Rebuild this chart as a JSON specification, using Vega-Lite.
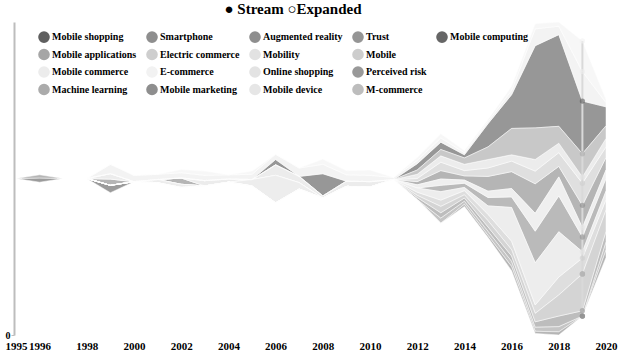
{
  "$schema": "https://vega.github.io/schema/vega-lite/v6.json",
  "width": 590,
  "height": 313,
  "autosize": {"type": "none"},
  "padding": {"left": 16, "top": 22, "right": 16, "bottom": 21},
  "title": {"text": "● Stream ○Expanded", "anchor": "middle", "fontSize": 15, "font": "Liberation Serif", "fontWeight": "bold", "color": "#000000", "offset": 4, "dx": -18},
  "config": {"view": {"stroke": null}, "font": "Liberation Serif"},
  "data": {"values": [
    {"year":1995,"Mobile shopping":0,"Smartphone":0,"Augmented reality":0,"Trust":0,"Mobile computing":0,"Mobile applications":0,"Electric commerce":0,"Mobility":0,"Mobile":0,"Mobile device":0,"Mobile commerce":0,"E-commerce":0,"Online shopping":0,"Perceived risk":0,"M-commerce":0,"Machine learning":0,"Mobile marketing":0},
    {"year":1996,"Mobile shopping":0,"Smartphone":0,"Augmented reality":0,"Trust":0,"Mobile computing":4,"Mobile applications":0,"Electric commerce":0,"Mobility":0,"Mobile":0,"Mobile device":0,"Mobile commerce":0,"E-commerce":0,"Online shopping":0,"Perceived risk":0,"M-commerce":0,"Machine learning":0,"Mobile marketing":3},
    {"year":1997,"Mobile shopping":0,"Smartphone":0,"Augmented reality":0,"Trust":0,"Mobile computing":0,"Mobile applications":0,"Electric commerce":0,"Mobility":0,"Mobile":0,"Mobile device":0,"Mobile commerce":0,"E-commerce":0,"Online shopping":0,"Perceived risk":0,"M-commerce":0,"Machine learning":0,"Mobile marketing":0},
    {"year":1998,"Mobile shopping":0,"Smartphone":0,"Augmented reality":0,"Trust":0,"Mobile computing":0,"Mobile applications":0,"Electric commerce":0,"Mobility":0,"Mobile":0,"Mobile device":0,"Mobile commerce":0,"E-commerce":0,"Online shopping":0,"Perceived risk":0,"M-commerce":0,"Machine learning":0,"Mobile marketing":0},
    {"year":1999,"Mobile shopping":0,"Smartphone":6,"Augmented reality":0,"Trust":0,"Mobile computing":7,"Mobile applications":0,"Electric commerce":0,"Mobility":5,"Mobile":0,"Mobile device":0,"Mobile commerce":9,"E-commerce":0,"Online shopping":0,"Perceived risk":0,"M-commerce":0,"Machine learning":0,"Mobile marketing":0},
    {"year":2000,"Mobile shopping":0,"Smartphone":0,"Augmented reality":0,"Trust":0,"Mobile computing":0,"Mobile applications":0,"Electric commerce":0,"Mobility":0,"Mobile":0,"Mobile device":0,"Mobile commerce":6,"E-commerce":0,"Online shopping":0,"Perceived risk":0,"M-commerce":0,"Machine learning":0,"Mobile marketing":0},
    {"year":2001,"Mobile shopping":0,"Smartphone":0,"Augmented reality":0,"Trust":0,"Mobile computing":0,"Mobile applications":0,"Electric commerce":0,"Mobility":0,"Mobile":0,"Mobile device":0,"Mobile commerce":5,"E-commerce":0,"Online shopping":3,"Perceived risk":0,"M-commerce":0,"Machine learning":0,"Mobile marketing":0},
    {"year":2002,"Mobile shopping":0,"Smartphone":6,"Augmented reality":0,"Trust":0,"Mobile computing":0,"Mobile applications":0,"Electric commerce":0,"Mobility":0,"Mobile":0,"Mobile device":0,"Mobile commerce":5,"E-commerce":3,"Online shopping":3,"Perceived risk":0,"M-commerce":0,"Machine learning":0,"Mobile marketing":0},
    {"year":2003,"Mobile shopping":0,"Smartphone":0,"Augmented reality":0,"Trust":0,"Mobile computing":0,"Mobile applications":0,"Electric commerce":0,"Mobility":5,"Mobile":0,"Mobile device":0,"Mobile commerce":5,"E-commerce":4,"Online shopping":0,"Perceived risk":0,"M-commerce":0,"Machine learning":0,"Mobile marketing":0},
    {"year":2004,"Mobile shopping":0,"Smartphone":0,"Augmented reality":0,"Trust":0,"Mobile computing":0,"Mobile applications":0,"Electric commerce":0,"Mobility":3,"Mobile":0,"Mobile device":0,"Mobile commerce":4,"E-commerce":0,"Online shopping":0,"Perceived risk":0,"M-commerce":0,"Machine learning":0,"Mobile marketing":0},
    {"year":2005,"Mobile shopping":0,"Smartphone":0,"Augmented reality":0,"Trust":0,"Mobile computing":0,"Mobile applications":0,"Electric commerce":0,"Mobility":0,"Mobile":0,"Mobile device":0,"Mobile commerce":5,"E-commerce":3,"Online shopping":6,"Perceived risk":0,"M-commerce":0,"Machine learning":0,"Mobile marketing":0},
    {"year":2006,"Mobile shopping":5,"Smartphone":0,"Augmented reality":0,"Trust":0,"Mobile computing":0,"Mobile applications":0,"Electric commerce":0,"Mobility":10,"Mobile":0,"Mobile device":0,"Mobile commerce":5,"E-commerce":0,"Online shopping":26,"Perceived risk":0,"M-commerce":0,"Machine learning":0,"Mobile marketing":0},
    {"year":2007,"Mobile shopping":0,"Smartphone":0,"Augmented reality":0,"Trust":0,"Mobile computing":0,"Mobile applications":0,"Electric commerce":0,"Mobility":6,"Mobile":0,"Mobile device":0,"Mobile commerce":8,"E-commerce":0,"Online shopping":6,"Perceived risk":0,"M-commerce":0,"Machine learning":0,"Mobile marketing":0},
    {"year":2008,"Mobile shopping":21,"Smartphone":0,"Augmented reality":0,"Trust":0,"Mobile computing":0,"Mobile applications":0,"Electric commerce":0,"Mobility":2,"Mobile":0,"Mobile device":0,"Mobile commerce":9,"E-commerce":5,"Online shopping":0,"Perceived risk":0,"M-commerce":0,"Machine learning":0,"Mobile marketing":0},
    {"year":2009,"Mobile shopping":0,"Smartphone":0,"Augmented reality":0,"Trust":0,"Mobile computing":0,"Mobile applications":0,"Electric commerce":0,"Mobility":5,"Mobile":0,"Mobile device":0,"Mobile commerce":6,"E-commerce":4,"Online shopping":0,"Perceived risk":0,"M-commerce":0,"Machine learning":0,"Mobile marketing":0},
    {"year":2010,"Mobile shopping":0,"Smartphone":0,"Augmented reality":0,"Trust":0,"Mobile computing":0,"Mobile applications":0,"Electric commerce":0,"Mobility":5,"Mobile":0,"Mobile device":0,"Mobile commerce":6,"E-commerce":5,"Online shopping":0,"Perceived risk":0,"M-commerce":0,"Machine learning":0,"Mobile marketing":0},
    {"year":2011,"Mobile shopping":0,"Smartphone":0,"Augmented reality":0,"Trust":0,"Mobile computing":0,"Mobile applications":0,"Electric commerce":0,"Mobility":0,"Mobile":0,"Mobile device":0,"Mobile commerce":2,"E-commerce":0,"Online shopping":0,"Perceived risk":0,"M-commerce":0,"Machine learning":0,"Mobile marketing":0},
    {"year":2012,"Mobile shopping":6,"Smartphone":3,"Augmented reality":0,"Trust":0,"Mobile computing":0,"Mobile applications":0,"Electric commerce":3,"Mobility":4,"Mobile":3,"Mobile device":3,"Mobile commerce":3,"E-commerce":3,"Online shopping":4,"Perceived risk":2,"M-commerce":2,"Machine learning":4,"Mobile marketing":0},
    {"year":2013,"Mobile shopping":7,"Smartphone":8,"Augmented reality":0,"Trust":6,"Mobile computing":0,"Mobile applications":5,"Electric commerce":8,"Mobility":6,"Mobile":6,"Mobile device":6,"Mobile commerce":4,"E-commerce":4,"Online shopping":8,"Perceived risk":5,"M-commerce":6,"Machine learning":6,"Mobile marketing":0},
    {"year":2014,"Mobile shopping":3,"Smartphone":4,"Augmented reality":0,"Trust":4,"Mobile computing":0,"Mobile applications":3,"Electric commerce":5,"Mobility":6,"Mobile":4,"Mobile device":3,"Mobile commerce":2,"E-commerce":2,"Online shopping":3,"Perceived risk":3,"M-commerce":3,"Machine learning":6,"Mobile marketing":2},
    {"year":2015,"Mobile shopping":22,"Smartphone":14,"Augmented reality":0,"Trust":8,"Mobile computing":0,"Mobile applications":4,"Electric commerce":8,"Mobility":8,"Mobile":6,"Mobile device":6,"Mobile commerce":2,"E-commerce":2,"Online shopping":8,"Perceived risk":4,"M-commerce":6,"Machine learning":12,"Mobile marketing":2},
    {"year":2016,"Mobile shopping":32,"Smartphone":16,"Augmented reality":0,"Trust":10,"Mobile computing":0,"Mobile applications":5,"Electric commerce":10,"Mobility":6,"Mobile":8,"Mobile device":8,"Mobile commerce":4,"E-commerce":4,"Online shopping":32,"Perceived risk":5,"M-commerce":6,"Machine learning":25,"Mobile marketing":4},
    {"year":2017,"Mobile shopping":78,"Smartphone":28,"Augmented reality":0,"Trust":30,"Mobile computing":0,"Mobile applications":4,"Electric commerce":12,"Mobility":11,"Mobile":8,"Mobile device":17,"Mobile commerce":16,"E-commerce":5,"Online shopping":40,"Perceived risk":5,"M-commerce":8,"Machine learning":30,"Mobile marketing":2},
    {"year":2018,"Mobile shopping":87,"Smartphone":10,"Augmented reality":0,"Trust":34,"Mobile computing":0,"Mobile applications":5,"Electric commerce":13,"Mobility":9,"Mobile":17,"Mobile device":18,"Mobile commerce":8,"E-commerce":4,"Online shopping":43,"Perceived risk":10,"M-commerce":20,"Machine learning":16,"Mobile marketing":3},
    {"year":2019,"Mobile shopping":50,"Smartphone":21,"Augmented reality":0,"Trust":14,"Mobile computing":0,"Mobile applications":0,"Electric commerce":21,"Mobility":6,"Mobile":15,"Mobile device":9,"Mobile commerce":28,"E-commerce":29,"Online shopping":6,"Perceived risk":5,"M-commerce":35,"Machine learning":22,"Mobile marketing":0},
    {"year":2020,"Mobile shopping":18,"Smartphone":12,"Augmented reality":0,"Trust":12,"Mobile computing":0,"Mobile applications":8,"Electric commerce":10,"Mobility":8,"Mobile":10,"Mobile device":8,"Mobile commerce":4,"E-commerce":3,"Online shopping":8,"Perceived risk":10,"M-commerce":20,"Machine learning":12,"Mobile marketing":7}
  ]},
  "transform": [
    {"fold": ["Mobile shopping","Smartphone","Augmented reality","Trust","Mobile computing","Mobile applications","Electric commerce","Mobility","Mobile","Mobile device","Mobile commerce","E-commerce","Online shopping","Perceived risk","M-commerce","Machine learning","Mobile marketing"], "as": ["series","value"]},
    {"calculate": "indexof(['Mobile computing','Mobile marketing','Mobile applications','Perceived risk','M-commerce','Augmented reality','Mobile','Online shopping','Trust','Mobile device','Smartphone','Electric commerce','Mobility','Machine learning','Mobile shopping','Mobile commerce','E-commerce'], datum.series)", "as": "k"},
    {"stack": "value", "groupby": ["year"], "sort": [{"field": "k", "order": "ascending"}], "offset": "center", "as": ["y0","y1"]}
  ],
  "encoding": {
    "x": {"field": "year", "type": "quantitative", "scale": {"domain": [1995, 2020], "nice": false, "zero": false},
      "axis": {"title": null, "values": [1995,1996,1998,2000,2002,2004,2006,2008,2010,2012,2014,2016,2018,2020], "format": "d", "ticks": false, "domain": false, "grid": false, "labelFont": "Liberation Serif", "labelFontWeight": "bold", "labelFontSize": 11, "labelColor": "#000000", "labelPadding": 5, "labelFlush": false, "labelOverlap": false}}
  },
  "layer": [
    {
      "mark": {"type": "area", "interpolate": "linear", "fillOpacity": 0.65, "stroke": "#ffffff", "strokeWidth": 0.5},
      "encoding": {
        "y": {"field": "y0", "type": "quantitative", "stack": null, "scale": {"nice": false},
          "axis": {"title": null, "values": [0], "grid": false, "offset": 2, "domainColor": "#bdbdbd", "domainWidth": 2, "tickColor": "#bdbdbd", "tickSize": 3, "labelFont": "Liberation Serif", "labelFontWeight": "bold", "labelFontSize": 10, "labelColor": "#000000", "labelPadding": 1}},
        "y2": {"field": "y1"},
        "color": {"field": "series", "type": "nominal",
          "scale": {"domain": ["Mobile shopping","Smartphone","Augmented reality","Trust","Mobile computing","Mobile applications","Electric commerce","Mobility","Mobile"," ","Mobile commerce","E-commerce","Online shopping","Perceived risk","  ","Machine learning","Mobile marketing","Mobile device","M-commerce","   "],
            "range": ["#5f5f5f","#8e8e8e","#8e8e8e","#959595","#666666","#a6a6a6","#cecece","#e2e2e2","#cdcdcd","transparent","#ececec","#f2f2f2","#e3e3e3","#999999","transparent","#ababab","#8e8e8e","#e6e6e6","#bdbdbd","transparent"]},
          "legend": {"title": null, "orient": "none", "legendX": 22, "legendY": 9, "direction": "horizontal", "columns": 5, "symbolType": "circle", "symbolSize": 135, "symbolOpacity": 1, "symbolStrokeWidth": 0, "labelFont": "Liberation Serif", "labelFontWeight": "bold", "labelFontSize": 10, "labelColor": "#000000", "labelOffset": 2, "rowPadding": 5.5, "columnPadding": 9, "padding": 0, "labelLimit": 200}}
      }
    },
    {
      "transform": [{"filter": "datum.year == 2019"}],
      "mark": {"type": "rule", "color": "#d9d9d9", "strokeWidth": 2},
      "encoding": {"y": {"field": "y0", "type": "quantitative"}, "y2": {"field": "y1"}}
    },
    {
      "transform": [{"filter": "datum.year == 2019"}],
      "mark": {"type": "point", "filled": true, "size": 28, "opacity": 0.6},
      "encoding": {"y": {"field": "y1", "type": "quantitative"}, "color": {"field": "series", "type": "nominal"}}
    }
  ]
}
